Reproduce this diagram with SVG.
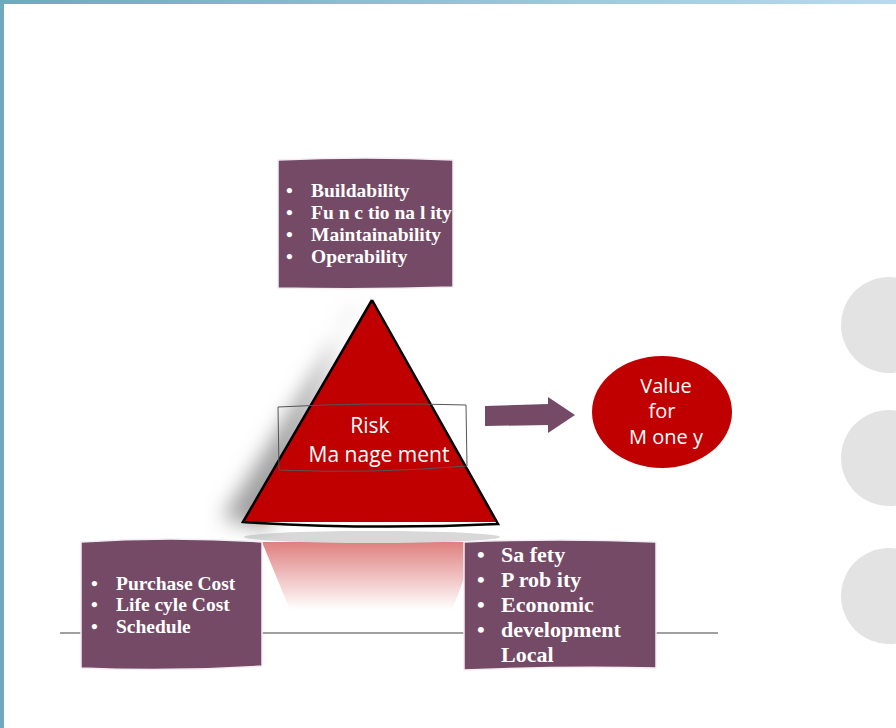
<svg xmlns="http://www.w3.org/2000/svg" width="896" height="728" viewBox="0 0 896 728">
<defs>
<linearGradient id="topbar" x1="0" y1="0" x2="1" y2="0">
<stop offset="0" stop-color="#6ea9bd"/><stop offset="1" stop-color="#b9daee"/>
</linearGradient>
<linearGradient id="refl" x1="0" y1="0" x2="0" y2="1">
<stop offset="0" stop-color="#c00000" stop-opacity="0.5"/><stop offset="1" stop-color="#c00000" stop-opacity="0"/>
</linearGradient>
<filter id="blur" x="-30%" y="-30%" width="160%" height="160%"><feGaussianBlur stdDeviation="10"/></filter>
<style>
.box{fill:#744a66;stroke:#f4eef2;stroke-width:1.5}
.bt{font-family:"Liberation Serif","DejaVu Serif",serif;font-weight:bold;fill:#ffffff}
.wt{font-family:"Open Sans","Liberation Sans",sans-serif;fill:#ffffff;font-size:20px;text-anchor:middle}
.big{font-size:21px}
.gc{fill:#e3e3e3}
</style>
</defs>
<rect width="896" height="728" fill="#ffffff"/>
<rect x="0" y="0" width="896" height="4" fill="url(#topbar)"/>
<rect x="0" y="0" width="4" height="728" fill="#6ea9bd"/>
<circle class="gc" cx="889" cy="325" r="48"/>
<circle class="gc" cx="889" cy="458" r="48"/>
<circle class="gc" cx="889" cy="596" r="48"/>
<line x1="60" y1="633" x2="718" y2="633" stroke="#808080" stroke-width="1.5"/>
<g id="reflection">
<polygon points="262,542 478,542 452,610 290,610" fill="url(#refl)"/>
<ellipse cx="372" cy="537" rx="128" ry="6" fill="#d8d8d8"/>
</g>
<g id="triangle">
<polygon points="362,298 222,518 268,530 345,320" fill="#a0a0a0" filter="url(#blur)"/>
<polygon points="372,300 243,522 498,522" fill="#c00000"/>
<path d="M372,300 L243,522 Q370,530 498,524 L372,300" fill="none" stroke="#000" stroke-width="2.5"/>
<path d="M278,407 Q370,402 466,405 L467,466 Q370,474 279,470 Z" fill="none" stroke="#555" stroke-width="1"/>
<text class="wt big" x="370" y="433">Risk</text>
<text class="wt big" x="379" y="462">Ma nage ment</text>
</g>
<g id="connectors">
<polygon points="485,406 548,404 548,397 575,415 548,433 548,425 485,426" fill="#744a66"/>
</g>
<g id="value">
<ellipse cx="662" cy="412" rx="70" ry="56" fill="#c00000"/>
<text class="wt" x="666" y="393">Value</text>
<text class="wt" x="662" y="418">for</text>
<text class="wt" x="666" y="444">M one y</text>
</g>
<g id="top-box">
<path class="box" d="M278,160 Q365,156 453,160 L453,287 Q365,290 278,288 Z"/>
<g class="bt" font-size="19.5">
<text x="286" y="197">•</text><text x="311" y="197">Buildability</text>
<text x="286" y="219">•</text><text x="311" y="219">Fu n c tio na l ity</text>
<text x="286" y="241">•</text><text x="311" y="241">Maintainability</text>
<text x="286" y="263">•</text><text x="311" y="263">Operability</text>
</g>
</g>
<g id="left-box">
<path class="box" d="M81,542 Q170,536 262,542 L262,666 Q170,672 81,668 Z"/>
<g class="bt" font-size="19.5">
<text x="91" y="590">•</text><text x="116" y="590">Purchase Cost</text>
<text x="91" y="611">•</text><text x="116" y="611">Life cyle Cost</text>
<text x="91" y="633">•</text><text x="116" y="633">Schedule</text>
</g>
</g>
<g id="right-box">
<path class="box" d="M464,542 Q560,538 656,542 L656,668 Q560,666 464,670 Z"/>
<g class="bt" font-size="22">
<text x="477" y="562">•</text><text x="501" y="562">Sa fety</text>
<text x="477" y="587">•</text><text x="501" y="587">P rob ity</text>
<text x="477" y="612">•</text><text x="501" y="612">Economic</text>
<text x="477" y="637">•</text><text x="501" y="637">development</text>
<text x="501" y="662">Local</text>
</g>
</g>
</svg>
